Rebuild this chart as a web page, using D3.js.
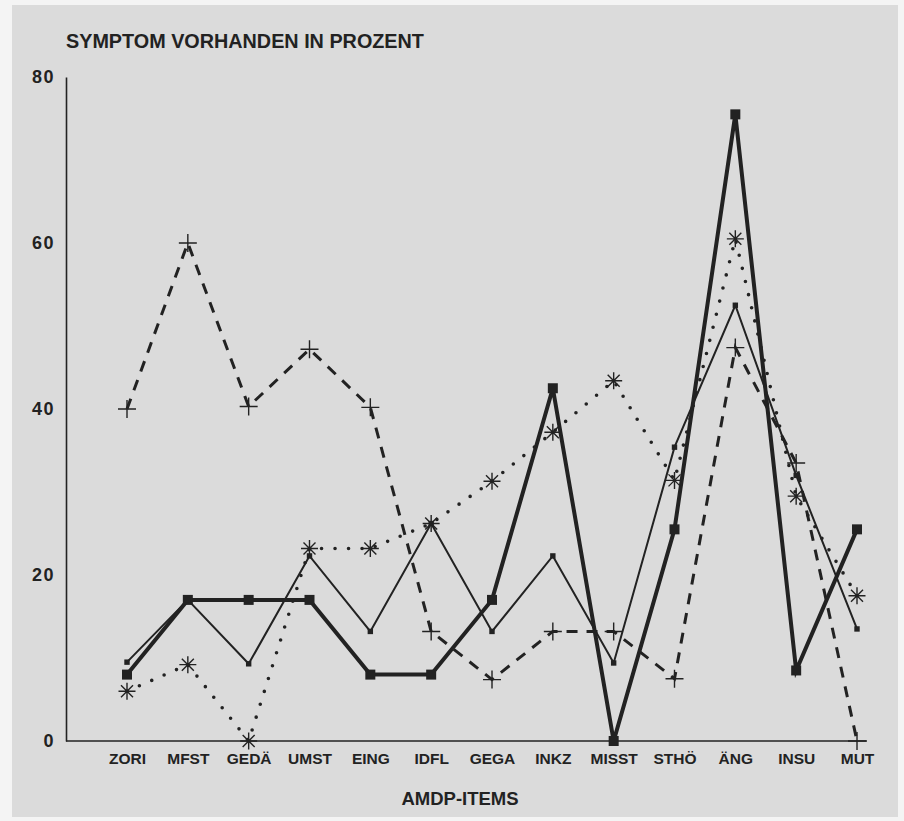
<!DOCTYPE html>
<html>
<head>
<meta charset="utf-8">
<script src="https://cdn.jsdelivr.net/npm/d3@7"></script>
<style>
  body { margin: 0; background: #f4f4f4; }
  text { font-family: "Liberation Sans", Arial, sans-serif; font-weight: bold; fill: #222; }
</style>
</head>
<body>
<div id="container"></div>
<script>
// AMDP items on the x axis
var categories = ["ZORI", "MFST", "GEDÄ", "UMST", "EING", "IDFL", "GEGA", "INKZ", "MISST", "STHÖ", "ÄNG", "INSU", "MUT"];

// percent values, one array per line
var thickSquares = [8, 17, 17, 17, 8, 8, 17, 42.5, 0, 25.5, 75.5, 8.5, 25.5];
var thinLine     = [9.5, 17, 9.3, 22.3, 13.2, 26.2, 13.2, 22.3, 9.4, 35.4, 52.5, 32, 13.5];
var dottedStars  = [6, 9.2, 0, 23.2, 23.2, 26.2, 31.3, 37.2, 43.4, 31.4, 60.5, 29.5, 17.5];
var dashedPlus   = [40, 60, 40.3, 47.2, 40.2, 13.2, 7.4, 13.2, 13.2, 7.5, 47.4, 33.5, 0];

var yTicks = [0, 20, 40, 60, 80];

var width = 904, height = 821;
var ink = "#222";

var svg = d3.select("#container").append("svg")
	.attr("width", width)
	.attr("height", height);

// scanned page background
svg.append("rect")
	.attr("x", 12).attr("y", 5)
	.attr("width", 886).attr("height", 812)
	.attr("fill", "#dbdbdb");

var x = d3.scalePoint().domain(categories).range([127, 857]);
var y = d3.scaleLinear().domain([0, 80]).range([741, 77]);

// y axis
var yAxis = svg.append("g")
	.attr("transform", "translate(66,0)")
	.call(d3.axisLeft(y).tickValues(yTicks).tickSize(0).tickSizeOuter(0).tickPadding(11));
yAxis.select(".domain").attr("stroke", ink).attr("stroke-width", 1.6);
yAxis.selectAll("text")
	.style("font-size", "18px")
	.style("letter-spacing", "1.5px")
	.attr("fill", ink);

// x axis (labels only, the base line runs past the last point)
var xAxis = svg.append("g")
	.attr("transform", "translate(0," + y(0) + ")")
	.call(d3.axisBottom(x).tickSize(0).tickPadding(12));
xAxis.select(".domain").remove();
xAxis.selectAll("text")
	.style("font-size", "15.5px")
	.attr("fill", ink);

svg.append("line")
	.attr("x1", 66).attr("x2", 867)
	.attr("y1", y(0)).attr("y2", y(0))
	.attr("stroke", ink).attr("stroke-width", 1.6);

// titles
svg.append("text")
	.attr("x", 66).attr("y", 48)
	.style("font-size", "19.8px")
	.text("SYMPTOM VORHANDEN IN PROZENT");

svg.append("text")
	.attr("x", 460).attr("y", 805)
	.style("text-anchor", "middle")
	.style("font-size", "18.5px")
	.text("AMDP-ITEMS");

var line = d3.line()
	.x(function(d, i) { return x(categories[i]); })
	.y(function(d) { return y(d); });

var plot = svg.append("g");

// dashed line with plus markers
plot.append("path")
	.attr("d", line(dashedPlus))
	.attr("fill", "none")
	.attr("stroke", ink)
	.attr("stroke-width", 3)
	.attr("stroke-dasharray", "11 9");

// dotted line with asterisks
plot.append("path")
	.attr("d", line(dottedStars))
	.attr("fill", "none")
	.attr("stroke", ink)
	.attr("stroke-width", 3.6)
	.attr("stroke-linecap", "round")
	.attr("stroke-dasharray", "0 13.5");

// thin solid line
plot.append("path")
	.attr("d", line(thinLine))
	.attr("fill", "none")
	.attr("stroke", ink)
	.attr("stroke-width", 2);

// thick solid line
plot.append("path")
	.attr("d", line(thickSquares))
	.attr("fill", "none")
	.attr("stroke", ink)
	.attr("stroke-width", 4);

// markers
plot.selectAll(".sq")
	.data(thickSquares).enter()
	.append("rect")
		.attr("class", "sq")
		.attr("x", function(d, i) { return x(categories[i]) - 5; })
		.attr("y", function(d) { return y(d) - 5; })
		.attr("width", 10).attr("height", 10)
		.attr("fill", ink);

plot.selectAll(".smallsq")
	.data(thinLine).enter()
	.append("rect")
		.attr("class", "smallsq")
		.attr("x", function(d, i) { return x(categories[i]) - 2.7; })
		.attr("y", function(d) { return y(d) - 2.7; })
		.attr("width", 5.4).attr("height", 5.4)
		.attr("fill", ink);

var plusPath = "M-9,0H9M0,-9V9";
plot.selectAll(".plus")
	.data(dashedPlus).enter()
	.append("path")
		.attr("class", "plus")
		.attr("transform", function(d, i) { return "translate(" + x(categories[i]) + "," + y(d) + ")"; })
		.attr("d", plusPath)
		.attr("stroke", ink)
		.attr("stroke-width", 1.4);

var starPath = "M-8.5,0H8.5M0,-8.5V8.5M-6,-6L6,6M-6,6L6,-6";
plot.selectAll(".star")
	.data(dottedStars).enter()
	.append("path")
		.attr("class", "star")
		.attr("transform", function(d, i) { return "translate(" + x(categories[i]) + "," + y(d) + ")"; })
		.attr("d", starPath)
		.attr("stroke", ink)
		.attr("stroke-width", 1.4);
</script>
</body>
</html>
